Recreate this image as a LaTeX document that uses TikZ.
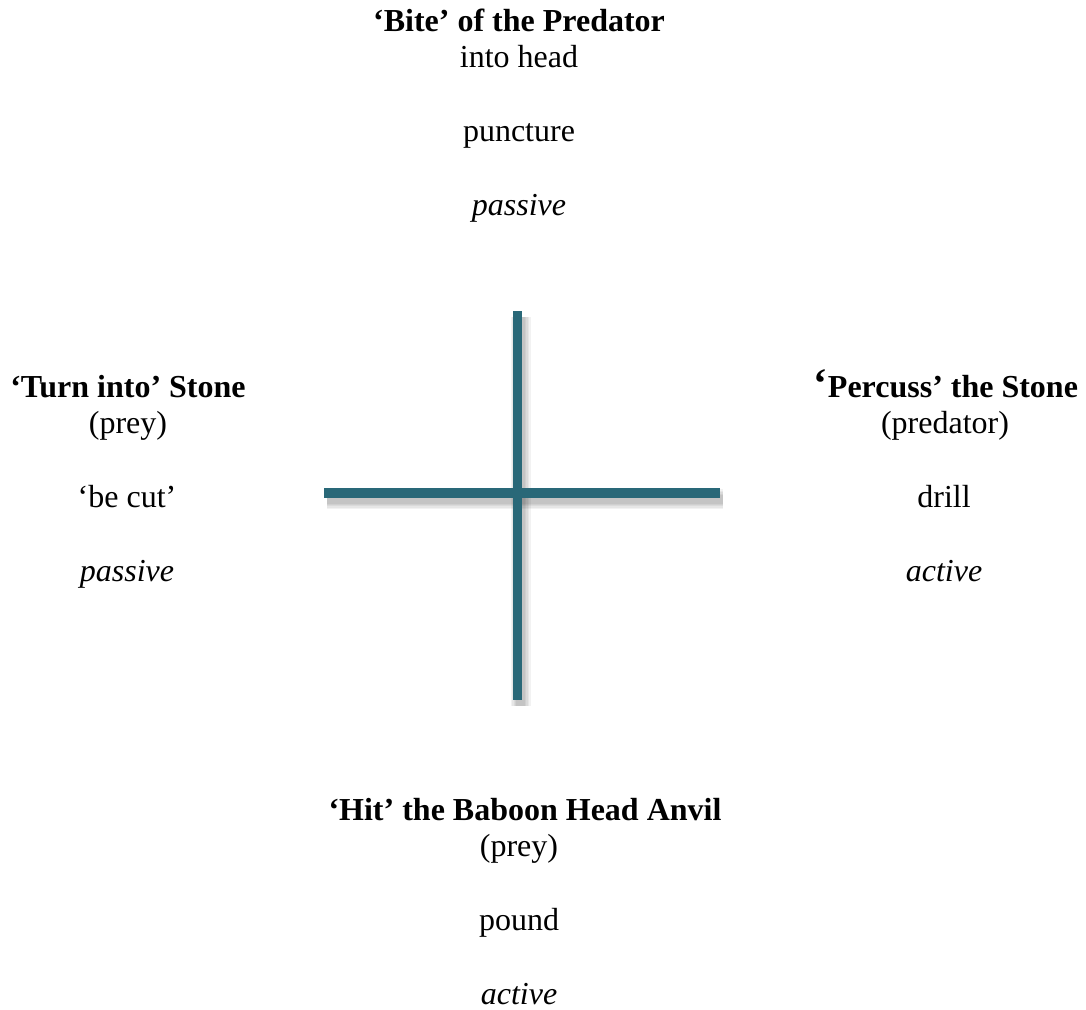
\documentclass[tikz,border=0pt]{standalone}
\usepackage{fontspec}
\setmainfont{Liberation Serif}
\definecolor{barteal}{RGB}{41,104,120}
\tikzset{
  txt/.style={anchor=base, inner sep=0pt, font=\fontsize{32}{37}\selectfont},
  ttl/.style={txt, font=\fontsize{32}{37}\selectfont\bfseries},
  bar/.style={draw=barteal, line width=9.5pt},
  barshadow/.style={draw=black, line width=#1, opacity=0.05}
}
\begin{document}
\begin{tikzpicture}[x=1pt,y=-1pt]
\useasboundingbox (0,0) rectangle (1086,1009);
% top block
\node[ttl] (t1) at (519,31) {‘Bite’ of the Predator};
\node[txt] (t2) at (519,67) {into head};
\node[txt] (t3) at (519,141) {puncture};
\node[txt] (t4) at (519,215) {\itshape passive};
% left block
\node[ttl] (l1) at (128,397) {‘Turn into’ Stone};
\node[txt] (l2) at (128,433) {(prey)};
\node[txt] (l3) at (127,507) {‘be cut’};
\node[txt] (l4) at (127,581) {\itshape passive};
% right block
\node[ttl] (r1) at (946,397) {{\fontsize{42}{37}\selectfont ‘}Percuss’ the Stone};
\node[txt] (r2) at (945,433) {(predator)};
\node[txt] (r3) at (944,507) {drill};
\node[txt] (r4) at (944,581) {\itshape active};
% bottom block
\node[ttl] (b1) at (525,820) {‘Hit’ the Baboon Head Anvil};
\node[txt] (b2) at (519,856) {(prey)};
\node[txt] (b3) at (519,930) {pound};
\node[txt] (b4) at (519,1004) {\itshape active};
% cross
\coordinate (vt) at (517.5,311);
\coordinate (vb) at (517.5,700);
\coordinate (hl) at (324,493);
\coordinate (hr) at (720,493);
\foreach \w in {20pt,17pt,14pt,11pt,9pt} {
  \draw[barshadow=\w] ([shift={(3,6)}]vt) -- ([shift={(3,6)}]vb);
  \draw[barshadow=\w] ([shift={(3,6)}]hl) -- ([shift={(3,6)}]hr);
}
\draw[bar] (vt) -- (vb);
\draw[bar] (hl) -- (hr);
\end{tikzpicture}
\end{document}
